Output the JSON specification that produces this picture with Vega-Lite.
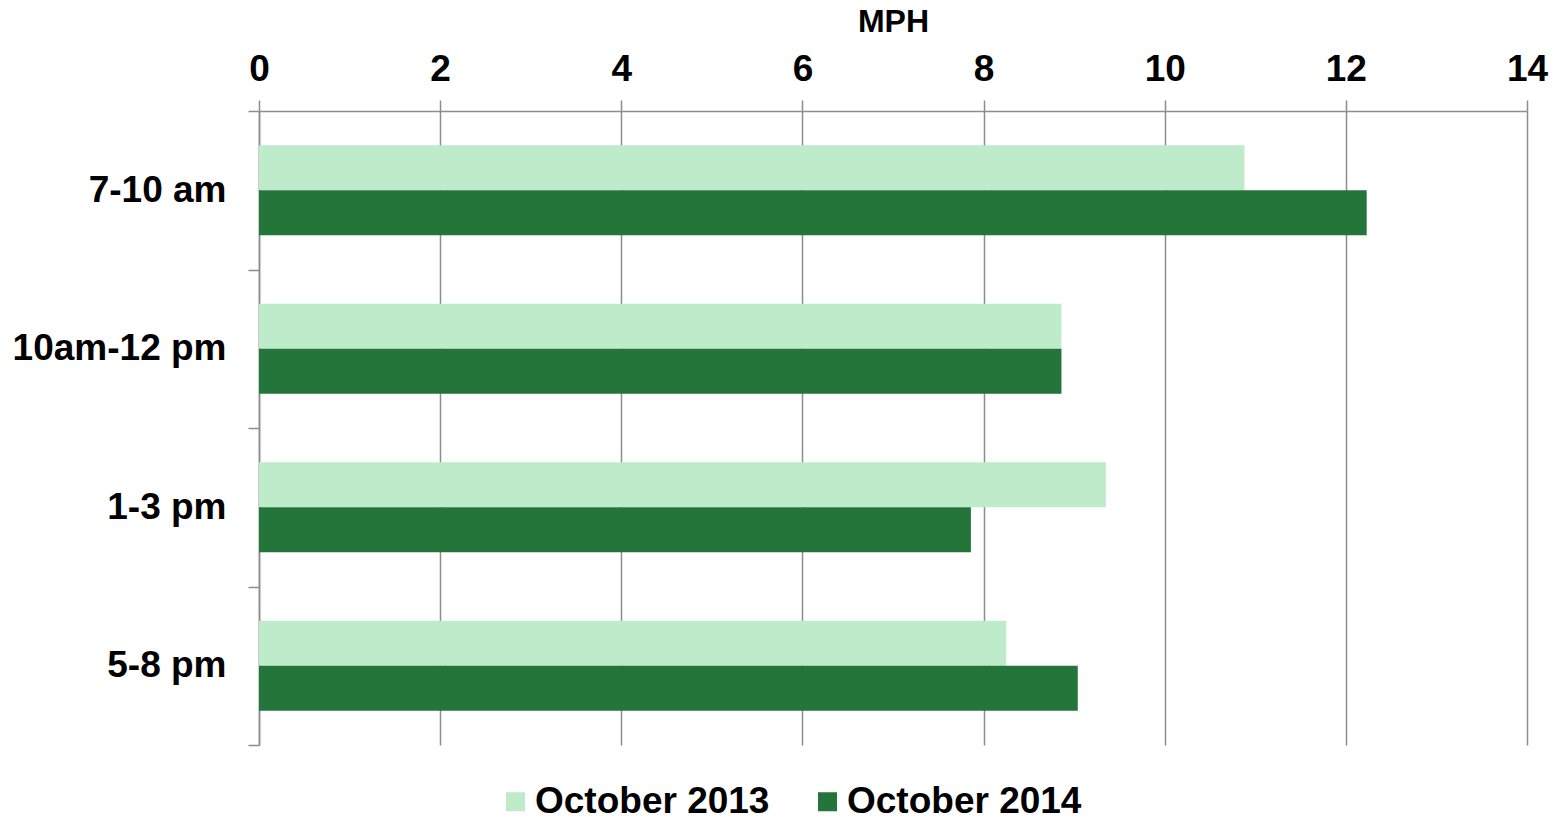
{
  "$schema": "https://vega.github.io/schema/vega-lite/v6.json",
  "width": 1268,
  "height": 634,
  "autosize": {"type": "none"},
  "padding": {"left": 259, "top": 111, "right": 31, "bottom": 76},
  "background": "white",
  "data": {
    "values": [
      {"period": "7-10 am", "series": "October 2013", "mph": 10.88},
      {"period": "7-10 am", "series": "October 2014", "mph": 12.23},
      {"period": "10am-12 pm", "series": "October 2013", "mph": 8.86},
      {"period": "10am-12 pm", "series": "October 2014", "mph": 8.86},
      {"period": "1-3 pm", "series": "October 2013", "mph": 9.35},
      {"period": "1-3 pm", "series": "October 2014", "mph": 7.86},
      {"period": "5-8 pm", "series": "October 2013", "mph": 8.25},
      {"period": "5-8 pm", "series": "October 2014", "mph": 9.04}
    ]
  },
  "mark": {"type": "bar"},
  "encoding": {
    "y": {
      "field": "period",
      "type": "nominal",
      "sort": ["7-10 am", "10am-12 pm", "1-3 pm", "5-8 pm"],
      "scale": {"paddingInner": 0, "paddingOuter": 0},
      "axis": {
        "title": null,
        "tickBand": "extent",
        "tickSize": 11,
        "labelPadding": 22,
        "labelLimit": 400,
        "grid": false
      }
    },
    "yOffset": {
      "field": "series",
      "type": "nominal",
      "sort": ["October 2013", "October 2014"],
      "scale": {"paddingInner": 0, "paddingOuter": 0.76}
    },
    "x": {
      "field": "mph",
      "type": "quantitative",
      "scale": {"domain": [0, 14], "nice": false},
      "axis": {
        "orient": "top",
        "title": "MPH",
        "values": [0, 2, 4, 6, 8, 10, 12, 14],
        "grid": true,
        "tickSize": 11,
        "labelPadding": 12,
        "labelFlush": false,
        "titleFontSize": 32,
        "titlePadding": 12
      }
    },
    "color": {
      "field": "series",
      "type": "nominal",
      "scale": {"domain": ["October 2013", "October 2014"], "range": ["#BEEBCA", "#23753A"]},
      "legend": {
        "title": null,
        "orient": "none",
        "direction": "horizontal",
        "legendX": 238,
        "legendY": 672,
        "symbolType": "square",
        "symbolSize": 361,
        "symbolStrokeWidth": 0,
        "labelFontSize": 37,
        "labelFont": "Liberation Sans",
        "labelFontWeight": "bold",
        "labelColor": "black",
        "labelLimit": 500,
        "labelOffset": 1,
        "columnPadding": 39
      }
    }
  },
  "config": {
    "view": {"stroke": null},
    "axis": {
      "labelFont": "Liberation Sans",
      "labelFontWeight": "bold",
      "labelFontSize": 37,
      "labelColor": "black",
      "titleFont": "Liberation Sans",
      "titleFontWeight": "bold",
      "titleColor": "black",
      "domainColor": "#8c8c8c",
      "domainWidth": 1.5,
      "tickColor": "#8c8c8c",
      "tickWidth": 1.5,
      "gridColor": "#8c8c8c",
      "gridWidth": 1.5,
      "gridOpacity": 1
    }
  }
}
